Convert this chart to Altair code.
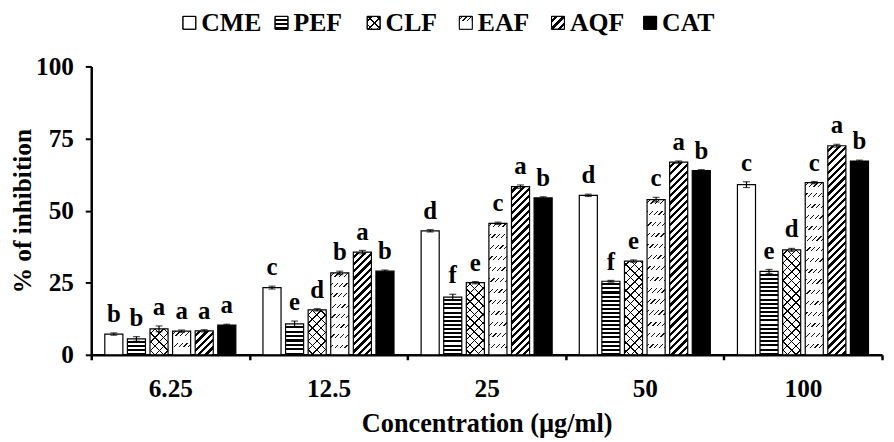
import math
import altair as alt

# ---------------- data ----------------
conc = ["6.25", "12.5", "25", "50", "100"]
series = ["CME", "PEF", "CLF", "EAF", "AQF", "CAT"]

cme = [7.2, 23.3, 43.0, 55.3, 59.0]
pef = [5.5, 10.7, 20.0, 25.5, 28.9]
clf = [9.0, 15.6, 25.0, 32.5, 36.4]
eaf = [8.2, 28.4, 45.6, 53.8, 59.7]
aqf = [8.3, 35.6, 58.3, 66.8, 72.5]
cat = [10.3, 29.0, 54.4, 63.9, 67.2]

cme_err = [0.4, 0.5, 0.4, 0.4, 1.0]
pef_err = [0.8, 1.0, 1.0, 0.3, 0.7]
clf_err = [1.0, 0.4, 0.4, 0.4, 0.5]
eaf_err = [0.4, 0.6, 0.4, 0.8, 0.4]
aqf_err = [0.4, 0.6, 0.6, 0.4, 0.5]
cat_err = [0.3, 0.4, 0.4, 0.3, 0.3]

cme_sig = ["b", "c", "d", "d", "c"]
pef_sig = ["b", "e", "f", "f", "e"]
clf_sig = ["a", "d", "e", "e", "d"]
eaf_sig = ["a", "b", "c", "c", "c"]
aqf_sig = ["a", "a", "a", "a", "a"]
cat_sig = ["a", "b", "b", "b", "b"]

vals = dict(zip(series, [cme, pef, clf, eaf, aqf, cat]))
errs = dict(zip(series, [cme_err, pef_err, clf_err, eaf_err, aqf_err, cat_err]))
sigs = dict(zip(series, [cme_sig, pef_sig, clf_sig, eaf_sig, aqf_sig, cat_sig]))

# ---------------- layout / style ----------------
FONT = "Liberation Serif"
PLOT_W, PLOT_H = 798, 291
PX = PLOT_H / 100.0
GROUP_STEP = PLOT_W / len(conc)
OFF_PI, OFF_PO = 0.2, 0.6
BAR_W = GROUP_STEP / (len(series) - OFF_PI + 2 * OFF_PO) * (1 - OFF_PI)
SQRT2 = math.sqrt(2)


def _stops(lst):
    return [{"offset": round(min(max(o, 0), 1), 5), "color": c} for o, c in lst]


def hstripes(h, period, frac, fg, bg):
    n = max(1, round(h / period))
    st = []
    for i in range(n):
        a, m, b = i / n, (i + 1 - frac) / n, (i + 1) / n
        st += [(a, bg), (m, bg), (m, fg), (b, fg)]
    return {"gradient": "linear", "x1": 0.5, "y1": 0, "x2": 0.5, "y2": 1,
            "stops": _stops(st)}


def diag(w, h, period, lw, fg, bg, direction):
    L = w + h
    P, D = period * SQRT2, lw * SQRT2
    c = (w + h) / (w * w + h * h)
    if direction == "/":
        x1, y1, x2, y2 = 0, 0, c * w, c * h
    else:
        x1, y1, x2, y2 = 0, 1, c * w, 1 - c * h
    st = [(0, bg)]
    s = P / 2
    while s < L:
        e = min(s + D, L)
        st += [(s / L, bg), (s / L, fg), (e / L, fg), (e / L, bg)]
        s += P
    st.append((1, bg))
    return {"gradient": "linear", "x1": x1, "y1": y1, "x2": x2, "y2": y2,
            "stops": _stops(st)}


def fills(name, w, h):
    h = max(h, 1.0)
    if name == "CME":
        return "white", None
    if name == "PEF":
        return hstripes(h, 4.2, 0.5, "black", "white"), None
    if name == "CLF":
        return (diag(w, h, 6.2, 1.0, "black", "white", "\\"),
                diag(w, h, 6.2, 1.0, "black", "transparent", "/"))
    if name == "EAF":
        return (diag(w, h, 3.4, 0.9, "#111111", "white", "/"),
                hstripes(h, 11, 0.62, "white", "transparent"))
    if name == "AQF":
        return diag(w, h, 5.2, 2.3, "black", "white", "/"), None
    return "black", None


rows = []
for s in series:
    for i, c in enumerate(conc):
        v, e = vals[s][i], errs[s][i]
        f1, f2 = fills(s, BAR_W, v * PX)
        rows.append({"conc": c, "series": s, "value": v,
                     "lo": v - e, "hi": v + e, "sig": sigs[s][i],
                     "fill1": f1, "fill2": f2})

leg_rows = []
for s in series:
    f1, f2 = fills(s, 13, 13)
    leg_rows.append({"series": s, "fill1": f1, "fill2": f2})

# ---------------- encodings ----------------
x_axis = alt.Axis(title="Concentration (µg/ml)", labelAngle=0, tickBand="extent",
                  labelFontSize=25.5, titleFontSize=26.5, labelPadding=17,
                  titlePadding=9, tickSize=5, tickWidth=2.5, domainWidth=2.5)
y_axis = alt.Axis(title="% of inhibition", values=[0, 25, 50, 75, 100], grid=False,
                  labelFontSize=25.5, titleFontSize=25.5, labelPadding=12,
                  titlePadding=0, tickSize=6, tickWidth=2, domainWidth=2.5)

X = alt.X("conc:N", sort=conc, axis=x_axis,
          scale=alt.Scale(paddingInner=0, paddingOuter=0))
XO = alt.XOffset("series:N", sort=series,
                 scale=alt.Scale(domain=series, paddingInner=OFF_PI, paddingOuter=OFF_PO))


def Y(field):
    return alt.Y(field, type="quantitative", stack=None, axis=y_axis,
                 title="% of inhibition", scale=alt.Scale(domain=[0, 100]))


base = alt.Chart(alt.Data(values=rows))

bars = base.mark_bar(strokeWidth=0).encode(
    x=X, xOffset=XO, y=Y("value"), fill=alt.Fill("fill1:N", scale=None))
over = base.transform_filter("datum.fill2 != null").mark_bar(strokeWidth=0).encode(
    x=X, xOffset=XO, y=Y("value"), fill=alt.Fill("fill2:N", scale=None))
outline = base.mark_bar(fillOpacity=0, stroke="black", strokeWidth=1.2).encode(
    x=X, xOffset=XO, y=Y("value"))
err = base.mark_rule(color="black", strokeWidth=1.2).encode(
    x=X, xOffset=XO, y=Y("lo"), y2="hi:Q")
cap_hi = base.mark_tick(color="black", thickness=1.2, size=7).encode(
    x=X, xOffset=XO, y=Y("hi"))
cap_lo = base.mark_tick(color="black", thickness=1.2, size=7).encode(
    x=X, xOffset=XO, y=Y("lo"))
letters = base.mark_text(font=FONT, fontSize=25, fontWeight="bold", color="black",
                         baseline="alphabetic", dy=-11).encode(
    x=X, xOffset=XO, y=Y("hi"), text="sig:N")

main = alt.layer(bars, over, outline, err, cap_hi, cap_lo, letters).properties(
    width=PLOT_W, height=PLOT_H)

# ---------------- custom legend (pattern swatches) ----------------
lbase = alt.Chart(alt.Data(values=leg_rows))
LX = alt.X("series:N", sort=series, axis=None,
           scale=alt.Scale(domain=series, range=[99, 564], padding=0))
sw = lbase.mark_point(shape="square", size=169, filled=True, fillOpacity=1,
                      stroke="black", strokeWidth=1).encode(
    x=LX, y=alt.value(11), fill=alt.Fill("fill1:N", scale=None))
sw2 = lbase.transform_filter("datum.fill2 != null").mark_point(
    shape="square", size=169, filled=True, fillOpacity=1, strokeWidth=0).encode(
    x=LX, y=alt.value(11), fill=alt.Fill("fill2:N", scale=None))
sw3 = lbase.mark_point(shape="square", size=169, filled=False, stroke="black",
                       strokeWidth=1, opacity=1).encode(x=LX, y=alt.value(11))
ltxt = lbase.mark_text(font=FONT, fontSize=26, fontWeight="bold", color="black",
                       align="left", baseline="alphabetic", dx=12).encode(
    x=LX, y=alt.value(19), text="series:N")
legend = alt.layer(sw, sw2, sw3, ltxt).properties(width=PLOT_W, height=22)

chart = alt.vconcat(legend, main, spacing=33, bounds="flush").properties(
    padding={"left": 2, "top": 0, "right": 2, "bottom": 0}
).configure_view(strokeWidth=0).configure_axis(
    labelFont=FONT, titleFont=FONT, labelFontWeight="bold", titleFontWeight="bold",
    labelColor="black", titleColor="black", domainColor="black", tickColor="black"
)

chart.save("out.html", embed_options={"renderer": "svg", "actions": False})
